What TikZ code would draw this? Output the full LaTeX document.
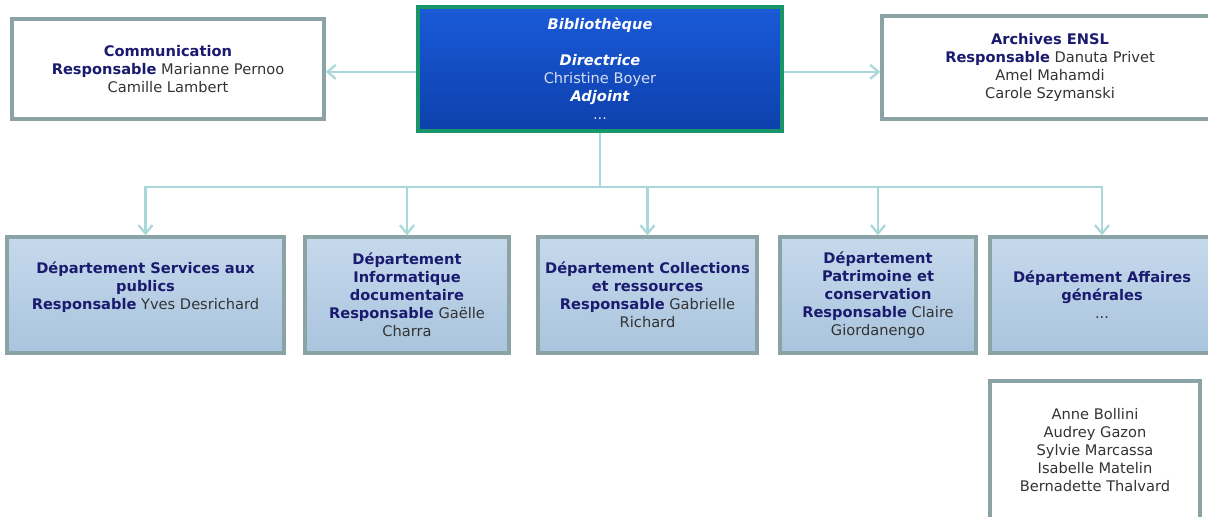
\documentclass[tikz,border=0pt]{standalone}
\usepackage{fontspec}
\setmainfont{DejaVu Sans}
\usepackage{tikz}
\usetikzlibrary{arrows.meta, positioning}

\definecolor{boxline}{HTML}{8BA3A5}
\definecolor{depttop}{HTML}{C6D9EC}
\definecolor{deptbot}{HTML}{A9C4DD}
\definecolor{navy}{HTML}{1A1A6E}
\definecolor{txtgray}{HTML}{333333}
\definecolor{bibtop}{HTML}{1A5AD8}
\definecolor{bibbot}{HTML}{0D40AC}
\definecolor{bibline}{HTML}{18966A}
\definecolor{biblight}{HTML}{D6DEF2}
\definecolor{conn}{HTML}{A8D8DA}

\newcommand{\ttl}[1]{\textbf{\color{navy}#1}}
\newcommand{\btl}[1]{\textbf{\textit{\color{white}#1}}}

\begin{document}
\begin{tikzpicture}[font=\fontsize{10.4pt}{12.8pt}\selectfont]
        % Setup the styles for the boxes and connectors
        \tikzset{white box/.style={draw=boxline,
                                   line width=2.4pt,
                                   fill=white,
                                   align=center,
                                   text=txtgray,
                                   inner sep=2pt},
                 dept box/.style={white box,
                                  top color=depttop,
                                  bottom color=deptbot,
                                  minimum height=2.9cm},
                 head box/.style={draw=bibline,
                                  line width=2.4pt,
                                  top color=bibtop,
                                  bottom color=bibbot,
                                  align=center,
                                  text=biblight,
                                  minimum width=9.1cm,
                                  minimum height=3.1cm},
                 conn/.style={draw=conn,
                              line width=1.6pt,
                              -{Straight Barb[length=6pt,width=10pt]}}}

        \clip (0,0) rectangle (30.2,-12.9);

        % Draw the top row
        \node[head box] at (15, -1.725) (biblio)
            {\btl{Bibliothèque}\\[12.8pt]\btl{Directrice}\\Christine Boyer\\\btl{Adjoint}\\...};
        \node[white box, minimum width=7.8cm, minimum height=2.5cm] at (4.2, -1.725) (comm)
            {\ttl{Communication}\\\ttl{Responsable} Marianne Pernoo\\Camille Lambert};
        \node[white box, minimum width=8.4cm, minimum height=2.575cm] at (26.25, -1.6875) (archives)
            {\ttl{Archives ENSL}\\\ttl{Responsable} Danuta Privet\\Amel Mahamdi\\Carole Szymanski};

        % Draw the departments
        \node[dept box, minimum width=6.925cm] at (3.6375, -7.375) (services)
            {\ttl{Département Services aux}\\\ttl{publics}\\\ttl{Responsable} Yves Desrichard\\\mbox{}};
        \node[dept box, minimum width=5.1cm] at (10.175, -7.375) (info)
            {\ttl{Département}\\\ttl{Informatique}\\\ttl{documentaire}\\\ttl{Responsable} Gaëlle\\Charra};
        \node[dept box, minimum width=5.475cm] at (16.1875, -7.375) (collections)
            {\ttl{Département Collections}\\\ttl{et ressources}\\\ttl{Responsable} Gabrielle\\Richard};
        \node[dept box, minimum width=4.9cm] at (21.95, -7.375) (patrimoine)
            {\ttl{Département}\\\ttl{Patrimoine et}\\\ttl{conservation}\\\ttl{Responsable} Claire\\Giordanengo};
        \node[dept box, minimum width=5.6cm] at (27.55, -7.375) (affaires)
            {\ttl{Département Affaires}\\\ttl{générales}\\...};

        % Staff of the last department
        \node[white box, minimum width=5.25cm, minimum height=3.45cm] at (27.375, -11.25) (staff)
            {Anne Bollini\\Audrey Gazon\\Sylvie Marcassa\\Isabelle Matelin\\Bernadette Thalvard};

        % Connect the boxes
        \coordinate (bus) at (15, -4.675);
        \draw[conn] ([yshift=-2pt]biblio.west) -- ([yshift=-2pt]biblio.west -| comm.east);
        \draw[conn] ([yshift=-2pt]biblio.east) -- ([yshift=-2pt]biblio.east -| archives.west);
        \draw[draw=conn, line width=1.6pt] (biblio.south) -- (bus);
        \foreach \d in {services, info, collections, patrimoine, affaires}
            \draw[conn] (bus) -| (\d.north);
\end{tikzpicture}
\end{document}
